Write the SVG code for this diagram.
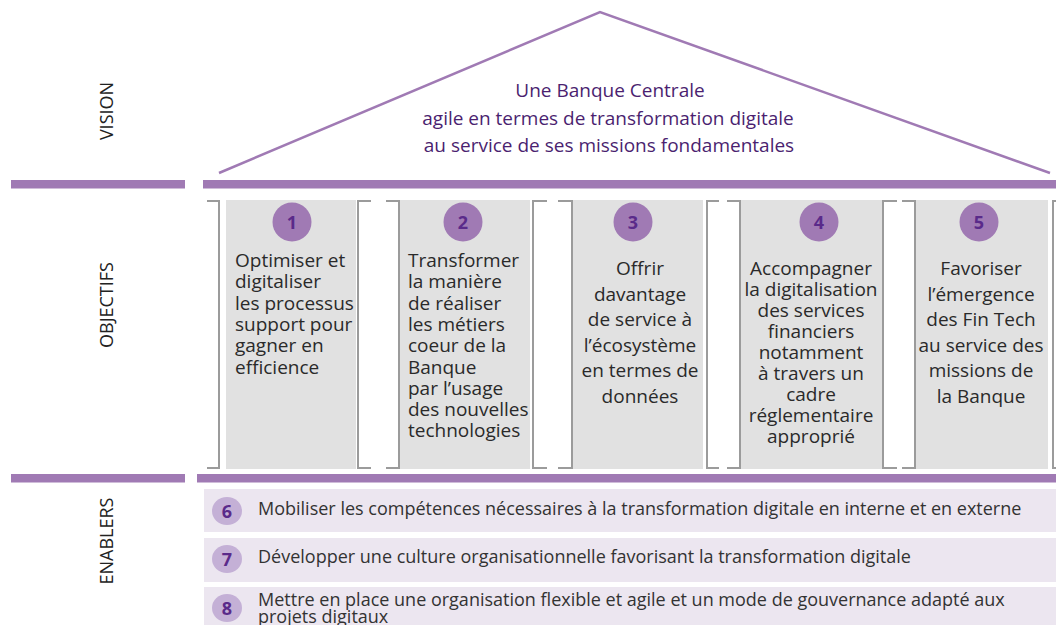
<svg xmlns="http://www.w3.org/2000/svg" width="1056" height="625" viewBox="0 0 1056 625">
<defs>
<style>
.bar{fill:#a07ab4}
.roof{fill:none;stroke:#a07ab4;stroke-width:2.5;stroke-linejoin:miter}
.pil{fill:#e1e1e1}
.brk{fill:none;stroke:#9b9b9b;stroke-width:2}
.lab{font-family:"Open Sans","Noto Sans",sans-serif;font-size:18px;fill:#222;text-anchor:middle}
.title{font-family:"Open Sans","Noto Sans",sans-serif;font-size:19px;fill:#4b1f70;text-anchor:middle}
.pt{font-family:"Open Sans","Noto Sans",sans-serif;font-size:19px;fill:#2a2a2a}
.c{text-anchor:middle}
.circ{fill:#a07ab4}
.num{font-family:"Open Sans","Noto Sans",sans-serif;font-size:18px;font-weight:bold;fill:#5a2a8a;text-anchor:middle}
.row{fill:#ece6f0}
.ecirc{fill:#c4b0d6}
.et{font-family:"Open Sans","Noto Sans",sans-serif;font-size:18px;fill:#333}
</style>
</defs>

<g id="labels">
<text class="lab" transform="translate(113,111) rotate(-90)">VISION</text>
<text class="lab" transform="translate(113,305) rotate(-90)">OBJECTIFS</text>
<text class="lab" transform="translate(113,541) rotate(-90)">ENABLERS</text>
</g>

<g id="vision">
<polyline class="roof" points="219,173 600,12 1050,173"/>
<text class="title" x="610" y="97">Une Banque Centrale</text>
<text class="title" x="608" y="124.5">agile en termes de transformation digitale</text>
<text class="title" x="609" y="152">au service de ses missions fondamentales</text>
</g>

<g id="bars">
<rect class="bar" x="11" y="180" width="174" height="8.5"/>
<rect class="bar" x="203" y="180" width="853" height="8.5"/>
<rect class="bar" x="11" y="474" width="174" height="8.5"/>
<rect class="bar" x="197" y="474" width="859" height="8.5"/>
</g>

<g id="objectif1">
<rect class="pil" x="226" y="200" width="130" height="269"/>
<path class="brk" d="M207,201 H219 V468 H207 M371,201 H358 V468 H371"/>
<circle class="circ" cx="292" cy="222" r="19.5"/>
<text class="num" x="292" y="228.5">1</text>
<text class="pt" x="235" y="267">Optimiser et</text>
<text class="pt" x="235" y="288.3">digitaliser</text>
<text class="pt" x="235" y="309.6">les processus</text>
<text class="pt" x="235" y="330.9">support pour</text>
<text class="pt" x="235" y="352.2">gagner en</text>
<text class="pt" x="235" y="373.5">efficience</text>
</g>

<g id="objectif2">
<rect class="pil" x="400" y="200" width="130" height="269"/>
<path class="brk" d="M386,201 H399 V468 H386 M547,201 H533 V468 H547"/>
<circle class="circ" cx="463" cy="222" r="19.5"/>
<text class="num" x="463" y="228.5">2</text>
<text class="pt" x="408" y="267">Transformer</text>
<text class="pt" x="408" y="288.3">la manière</text>
<text class="pt" x="408" y="309.6">de réaliser</text>
<text class="pt" x="408" y="330.9">les métiers</text>
<text class="pt" x="408" y="352.2">coeur de la</text>
<text class="pt" x="408" y="373.5">Banque</text>
<text class="pt" x="408" y="394.8">par l’usage</text>
<text class="pt" x="408" y="416.1">des nouvelles</text>
<text class="pt" x="408" y="437.4">technologies</text>
</g>

<g id="objectif3">
<rect class="pil" x="572" y="200" width="131" height="269"/>
<path class="brk" d="M558,201 H572 V468 H558 M719,201 H707 V468 H719"/>
<circle class="circ" cx="633" cy="222" r="19.5"/>
<text class="num" x="633" y="228.5">3</text>
<text class="pt c" x="640" y="275">Offrir</text>
<text class="pt c" x="640" y="300.5">davantage</text>
<text class="pt c" x="640" y="326">de service à</text>
<text class="pt c" x="640" y="351.5">l’écosystème</text>
<text class="pt c" x="640" y="377">en termes de</text>
<text class="pt c" x="640" y="402.5">données</text>
</g>

<g id="objectif4">
<rect class="pil" x="740" y="200" width="142" height="269"/>
<path class="brk" d="M727,201 H740 V468 H727 M897,201 H883 V468 H897"/>
<circle class="circ" cx="819" cy="222" r="19.5"/>
<text class="num" x="819" y="228.5">4</text>
<text class="pt c" x="811" y="275">Accompagner</text>
<text class="pt c" x="811" y="296">la digitalisation</text>
<text class="pt c" x="811" y="317">des services</text>
<text class="pt c" x="811" y="338">financiers</text>
<text class="pt c" x="811" y="359">notamment</text>
<text class="pt c" x="811" y="380">à travers un</text>
<text class="pt c" x="811" y="401">cadre</text>
<text class="pt c" x="811" y="422">réglementaire</text>
<text class="pt c" x="811" y="443">approprié</text>
</g>

<g id="objectif5">
<rect class="pil" x="915" y="200" width="133" height="269"/>
<path class="brk" d="M902,201 H915 V468 H902 M1057,201 H1053 V468 H1057"/>
<circle class="circ" cx="979" cy="222" r="19.5"/>
<text class="num" x="979" y="228.5">5</text>
<text class="pt c" x="981" y="275">Favoriser</text>
<text class="pt c" x="981" y="300.5">l’émergence</text>
<text class="pt c" x="981" y="326">des Fin Tech</text>
<text class="pt c" x="981" y="351.5">au service des</text>
<text class="pt c" x="981" y="377">missions de</text>
<text class="pt c" x="981" y="402.5">la Banque</text>
</g>

<g id="enabler6">
<rect class="row" x="204" y="489" width="852" height="43"/>
<ellipse class="ecirc" cx="227" cy="511" rx="15" ry="14"/>
<text class="num" x="227" y="517.5">6</text>
<text class="et" x="258" y="515">Mobiliser les compétences nécessaires à la transformation digitale en interne et en externe</text>
</g>

<g id="enabler7">
<rect class="row" x="204" y="538" width="852" height="44"/>
<ellipse class="ecirc" cx="227" cy="559" rx="15" ry="14"/>
<text class="num" x="227" y="565.5">7</text>
<text class="et" x="258" y="563">Développer une culture organisationnelle favorisant la transformation digitale</text>
</g>

<g id="enabler8">
<rect class="row" x="204" y="587" width="852" height="44"/>
<ellipse class="ecirc" cx="227" cy="608" rx="15" ry="14"/>
<text class="num" x="227" y="614.5">8</text>
<text class="et" x="258" y="606">Mettre en place une organisation flexible et agile et un mode de gouvernance adapté aux</text>
<text class="et" x="258" y="623">projets digitaux</text>
</g>

<g id="connectors"></g>
</svg>
